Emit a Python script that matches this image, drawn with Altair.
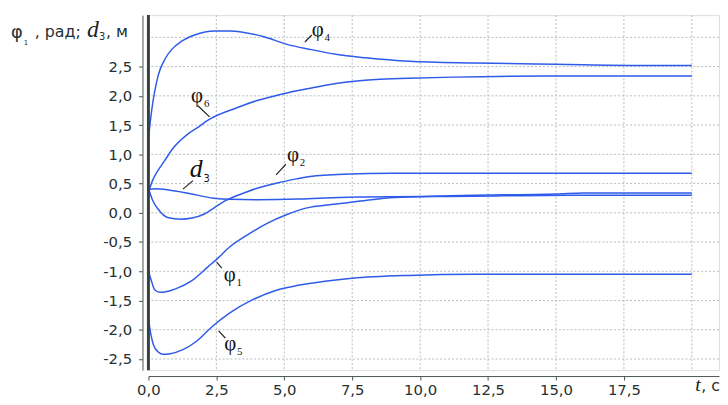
import altair as alt
import pandas as pd

# ---------------- data ----------------
t_phi4 = [0, 0.12, 0.36, 0.61, 0.85, 1.21, 1.7, 2.43, 3.0, 4.25, 5.1, 6.0, 6.9, 8.0, 9.6, 12.0, 15.0, 18.1, 20.0]
phi4 = [1.27, 1.75, 2.35, 2.63, 2.79, 2.93, 3.04, 3.11, 3.11, 3.01, 2.88, 2.79, 2.71, 2.65, 2.59, 2.56, 2.54, 2.52, 2.52]

t_phi6 = [0, 0.15, 0.36, 0.61, 0.85, 1.46, 1.82, 2.18, 3.28, 4.0, 4.74, 5.1, 5.95, 6.9, 8.37, 9.6, 11.2, 14.7, 20.0]
phi6 = [0.35, 0.55, 0.73, 0.90, 1.07, 1.35, 1.46, 1.58, 1.80, 1.92, 2.01, 2.05, 2.13, 2.21, 2.28, 2.30, 2.32, 2.34, 2.34]

t_phi2 = [0, 0.15, 0.36, 0.73, 1.2, 1.6, 2.06, 2.43, 2.8, 3.64, 4.0, 4.73, 5.46, 5.95, 7.17, 9.0, 20.0]
phi2 = [0.42, 0.22, 0.06, -0.085, -0.11, -0.09, -0.02, 0.09, 0.20, 0.36, 0.42, 0.51, 0.58, 0.62, 0.66, 0.675, 0.675]

t_d3 = [0, 0.25, 0.75, 1.5, 2.4, 3.0, 4.0, 5.5, 6.5, 8.0, 10.0, 12.0, 15.0, 16.0, 20.0]
d3 = [0.40, 0.41, 0.39, 0.33, 0.25, 0.23, 0.225, 0.235, 0.255, 0.27, 0.28, 0.30, 0.32, 0.34, 0.34]

t_phi1 = [0, 0.12, 0.24, 0.45, 0.65, 1.0, 1.6, 2.2, 2.5, 3.0, 3.6, 4.37, 5.1, 5.8, 6.8, 7.8, 8.7, 9.6, 11.0, 13.0, 15.5, 20.0]
phi1 = [-0.99, -1.18, -1.32, -1.36, -1.35, -1.30, -1.16, -0.92, -0.80, -0.58, -0.39, -0.18, -0.03, 0.08, 0.145, 0.20, 0.25, 0.27, 0.28, 0.29, 0.30, 0.30]

t_phi5 = [0, 0.09, 0.18, 0.36, 0.55, 0.8, 1.27, 1.76, 2.36, 2.97, 3.82, 4.74, 5.5, 6.5, 7.5, 9.6, 12.0, 20.0]
phi5 = [-1.80, -2.08, -2.25, -2.38, -2.42, -2.41, -2.34, -2.20, -1.94, -1.72, -1.49, -1.32, -1.24, -1.17, -1.12, -1.07, -1.05, -1.05]

x_ticks = [0, 2.5, 5, 7.5, 10, 12.5, 15, 17.5]
y_ticks = [-2.5, -2.0, -1.5, -1.0, -0.5, 0.0, 0.5, 1.0, 1.5, 2.0, 2.5]
x_grid = [2.5, 5, 7.5, 10, 12.5, 15, 17.5, 20]
y_grid = [-2.5, -2.0, -1.5, -1.0, -0.5, 0.0, 0.5, 1.0, 1.5, 2.0, 2.5, 3.0]

# curve labels: φ + subscript, anchored at glyph left / baseline (data units)
lab_sub = ["4", "6", "2", "1", "5"]
lab_t = [6.01, 1.57, 5.10, 2.77, 2.79]
lab_v = [3.03, 1.90, 0.88, -1.16, -2.34]
d3_lab_t = [1.52]
d3_lab_v = [0.62]

# leader lines (start / end, data units)
lead_t1 = [5.76, 1.82, 1.27, 4.70, 2.51, 2.58]
lead_v1 = [2.92, 1.83, 0.405, 0.65, -0.845, -2.02]
lead_t2 = [6.01, 2.25, 1.64, 5.06, 2.70, 2.83]
lead_v2 = [3.04, 1.64, 0.55, 0.83, -0.946, -2.14]

# ---------------- build ----------------
series = [("phi4", t_phi4, phi4), ("phi6", t_phi6, phi6), ("phi2", t_phi2, phi2),
          ("d3", t_d3, d3), ("phi1", t_phi1, phi1), ("phi5", t_phi5, phi5)]
df = pd.concat([pd.DataFrame({"s": n, "t": tt, "v": vv}) for n, tt, vv in series], ignore_index=True)

BLUE = "#2f5bea"
AX = "#4a5252"
TXT = "#263030"
SANS = "DejaVu Sans"
SERIF = "Liberation Serif"

xs = alt.Scale(domain=[0, 21], nice=False, zero=False)
ys = alt.Scale(domain=[-2.69, 3.38], nice=False, zero=False)
lab_expr = "(datum.value < 0 ? '-' : '') + replace(format(abs(datum.value), '.1f'), '.', ',')"

xa = alt.Axis(values=x_ticks, labelExpr=lab_expr, grid=False, offset=6, title=None,
              tickSize=4, tickColor=AX, domainColor=AX, labelFont=SANS,
              labelFontSize=15, labelColor=TXT, labelPadding=3,
              labelFlush=False, labelOverlap=False)
ya = alt.Axis(values=y_ticks, labelExpr=lab_expr, grid=False, offset=6, title=None,
              tickSize=4, tickColor=AX, domainColor=AX, labelFont=SANS,
              labelFontSize=15, labelColor=TXT, labelPadding=7,
              labelOverlap=False)


def X(f):
    return alt.X(f, scale=xs, axis=xa, title=None)


def Y(f):
    return alt.Y(f, scale=ys, axis=ya, title=None)


gx = alt.Chart(pd.DataFrame({"g": x_grid})).mark_rule(
    color="#b4bcbc", strokeDash=[2, 2], strokeWidth=1
).encode(x=X("g:Q"))
gy = alt.Chart(pd.DataFrame({"g": y_grid})).mark_rule(
    color="#b4bcbc", strokeDash=[2, 2], strokeWidth=1
).encode(y=Y("g:Q"))

lines = alt.Chart(df).mark_line(color=BLUE, strokeWidth=1.5, interpolate="monotone").encode(
    x=X("t:Q"), y=Y("v:Q"), detail="s:N")

left_edge = alt.Chart(pd.DataFrame({"g": [0]})).mark_rule(color="#384040", strokeWidth=3).encode(
    x=X("g:Q"))

lead_df = pd.DataFrame({"t1": lead_t1, "v1": lead_v1, "t2": lead_t2, "v2": lead_v2})
leaders = alt.Chart(lead_df).mark_rule(color="#222", strokeWidth=1.2).encode(
    x=X("t1:Q"), y=Y("v1:Q"), x2="t2:Q", y2="v2:Q")

lab_df = pd.DataFrame({"t": lab_t, "v": lab_v, "sub": lab_sub, "phi": ["φ"] * len(lab_sub)})
phi_txt = alt.Chart(lab_df).mark_text(align="left", baseline="alphabetic", font=SERIF,
                                      fontSize=21, color="#111").encode(
    x=X("t:Q"), y=Y("v:Q"), text="phi:N")
sub_txt = alt.Chart(lab_df).mark_text(align="left", baseline="alphabetic", font=SERIF,
                                      fontSize=11, color="#111", dx=13, dy=5).encode(
    x=X("t:Q"), y=Y("v:Q"), text="sub:N")

d3_df = pd.DataFrame({"t": d3_lab_t, "v": d3_lab_v, "d": ["d"], "sub": ["3"]})
d_txt = alt.Chart(d3_df).mark_text(align="left", baseline="alphabetic", font=SERIF, fontSize=26,
                                   fontStyle="italic", color="#111").encode(
    x=X("t:Q"), y=Y("v:Q"), text="d:N")
d_sub = alt.Chart(d3_df).mark_text(align="left", baseline="alphabetic", font=SANS, fontSize=10,
                                   color="#111", dx=14, dy=6).encode(
    x=X("t:Q"), y=Y("v:Q"), text="sub:N")


def txt(s, x, y, font, size, style="normal", color=TXT):
    return alt.Chart(pd.DataFrame({"s": [s]})).mark_text(
        align="left", baseline="alphabetic", font=font, fontSize=size, fontStyle=style, color=color
    ).encode(x=alt.value(x), y=alt.value(y), text="s:N")


title_parts = [
    txt("φ", -139, 23, SANS, 18),
    txt("1", -126, 30, SANS, 7),
    txt(", рад;", -115, 22, SANS, 16),
    txt("d", -62, 22, SERIF, 24, "italic", "#222"),
    txt("3", -50, 25, SANS, 10),
    txt(", м", -43, 22, SANS, 16),
    txt("t", 553, 380, SERIF, 20, "italic", "#222"),
    txt(", c", 559, 380, SANS, 16),
]

chart = alt.layer(gx, gy, lines, left_edge, leaders, phi_txt, sub_txt, d_txt, d_sub, *title_parts).properties(
    width=577, height=359,
    autosize=alt.AutoSizeParams(type="none"),
    padding={"left": 142, "top": 5, "right": 1, "bottom": 28},
).configure_view(stroke="#5a6262", strokeWidth=2).configure(background="white")

chart.save("out.html", embed_options={"renderer": "svg", "actions": False})
